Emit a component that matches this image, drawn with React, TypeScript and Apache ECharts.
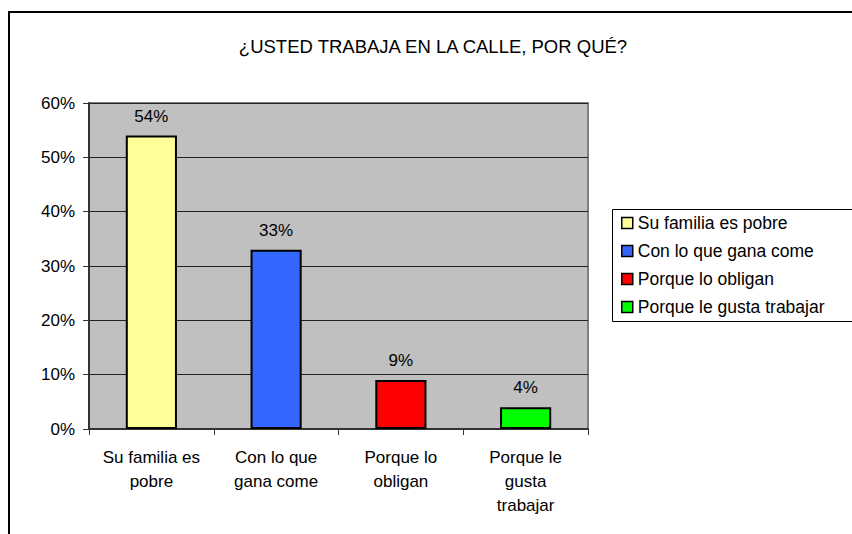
import React, { useEffect, useRef } from "react";
import * as echarts from "echarts";

const categories = ["Su familia es\npobre", "Con lo que\ngana come", "Porque lo\nobligan", "Porque le\ngusta\ntrabajar"];
const seriesNames = ["Su familia es pobre", "Con lo que gana come", "Porque lo obligan", "Porque le gusta trabajar"];
const values = [54, 33, 9, 4];
const colors = ["#FFFF99", "#3366FF", "#FF0000", "#00FF00"];
const yTicks = [0, 10, 20, 30, 40, 50, 60];
const title = "¿USTED TRABAJA EN LA CALLE, POR QUÉ?";

const FONT = "'Liberation Sans', Arial, sans-serif";

export default function App() {
  const ref = useRef<HTMLDivElement>(null);
  useEffect(() => {
    if (!ref.current) return;
    const chart = echarts.init(ref.current, null, { renderer: "svg" });
    const series = seriesNames.map((name, i) => ({
      name,
      type: "bar",
      stack: "all",
      barWidth: "41%",
      data: values.map((v, j) => (j === i ? v : "-")),
      itemStyle: { color: colors[i], borderColor: "#000", borderWidth: 2 },
      label: {
        show: true,
        position: "top",
        distance: 11,
        formatter: "{c}%",
        color: "#000",
        fontSize: 17,
        fontFamily: FONT,
      },
    }));
    chart.setOption({
      animation: false,
      backgroundColor: "#fff",
      title: {
        text: title,
        left: 428,
        textAlign: "center",
        top: 32,
        textStyle: { fontSize: 18.5, fontWeight: "normal", color: "#000", fontFamily: FONT },
      },
      graphic: [
        {
          type: "rect",
          z: -10,
          shape: { x: 9, y: 12, width: 900, height: 600 },
          style: { fill: "none", stroke: "#000", lineWidth: 2 },
        },
        {
          type: "rect",
          z: 0,
          shape: { x: 612.5, y: 209.5, width: 300, height: 112 },
          style: { fill: "#fff", stroke: "#000", lineWidth: 1 },
        },
      ],
      legend: {
        orient: "vertical",
        left: 621,
        top: 214,
        padding: 0,
        itemWidth: 11,
        itemHeight: 11,
        itemGap: 10,
        icon: "rect",
        itemStyle: { borderColor: "#000", borderWidth: 1.5 },
        textStyle: { fontSize: 17.5, lineHeight: 18, color: "#000", fontFamily: FONT },
        data: seriesNames,
      },
      grid: {
        left: 89,
        top: 103,
        right: 264,
        bottom: 105,
        show: true,
        backgroundColor: "#C0C0C0",
        borderColor: "#808080",
        borderWidth: 2,
      },
      xAxis: {
        type: "category",
        data: categories,
        axisLine: { lineStyle: { color: "#333", width: 2 } },
        axisTick: { show: true, length: 6, lineStyle: { color: "#333", width: 1 } },
        axisLabel: {
          margin: 16,
          fontSize: 17,
          lineHeight: 24,
          color: "#000",
          fontFamily: FONT,
          interval: 0,
        },
      },
      yAxis: {
        type: "value",
        min: yTicks[0],
        max: yTicks[yTicks.length - 1],
        interval: 10,
        axisLine: { show: true, lineStyle: { color: "#333", width: 2 } },
        axisTick: { show: true, length: 6, lineStyle: { color: "#333", width: 1 } },
        splitLine: { show: true, lineStyle: { color: "#222", width: 1 } },
        axisLabel: {
          margin: 14,
          formatter: "{value}%",
          fontSize: 17,
          color: "#000",
          fontFamily: FONT,
        },
      },
      series,
    });
    return () => chart.dispose();
  }, []);
  return (
    <div
      ref={ref}
      style={{ position: "fixed", left: 0, top: 0, width: 852, height: 534 }}
    />
  );
}
